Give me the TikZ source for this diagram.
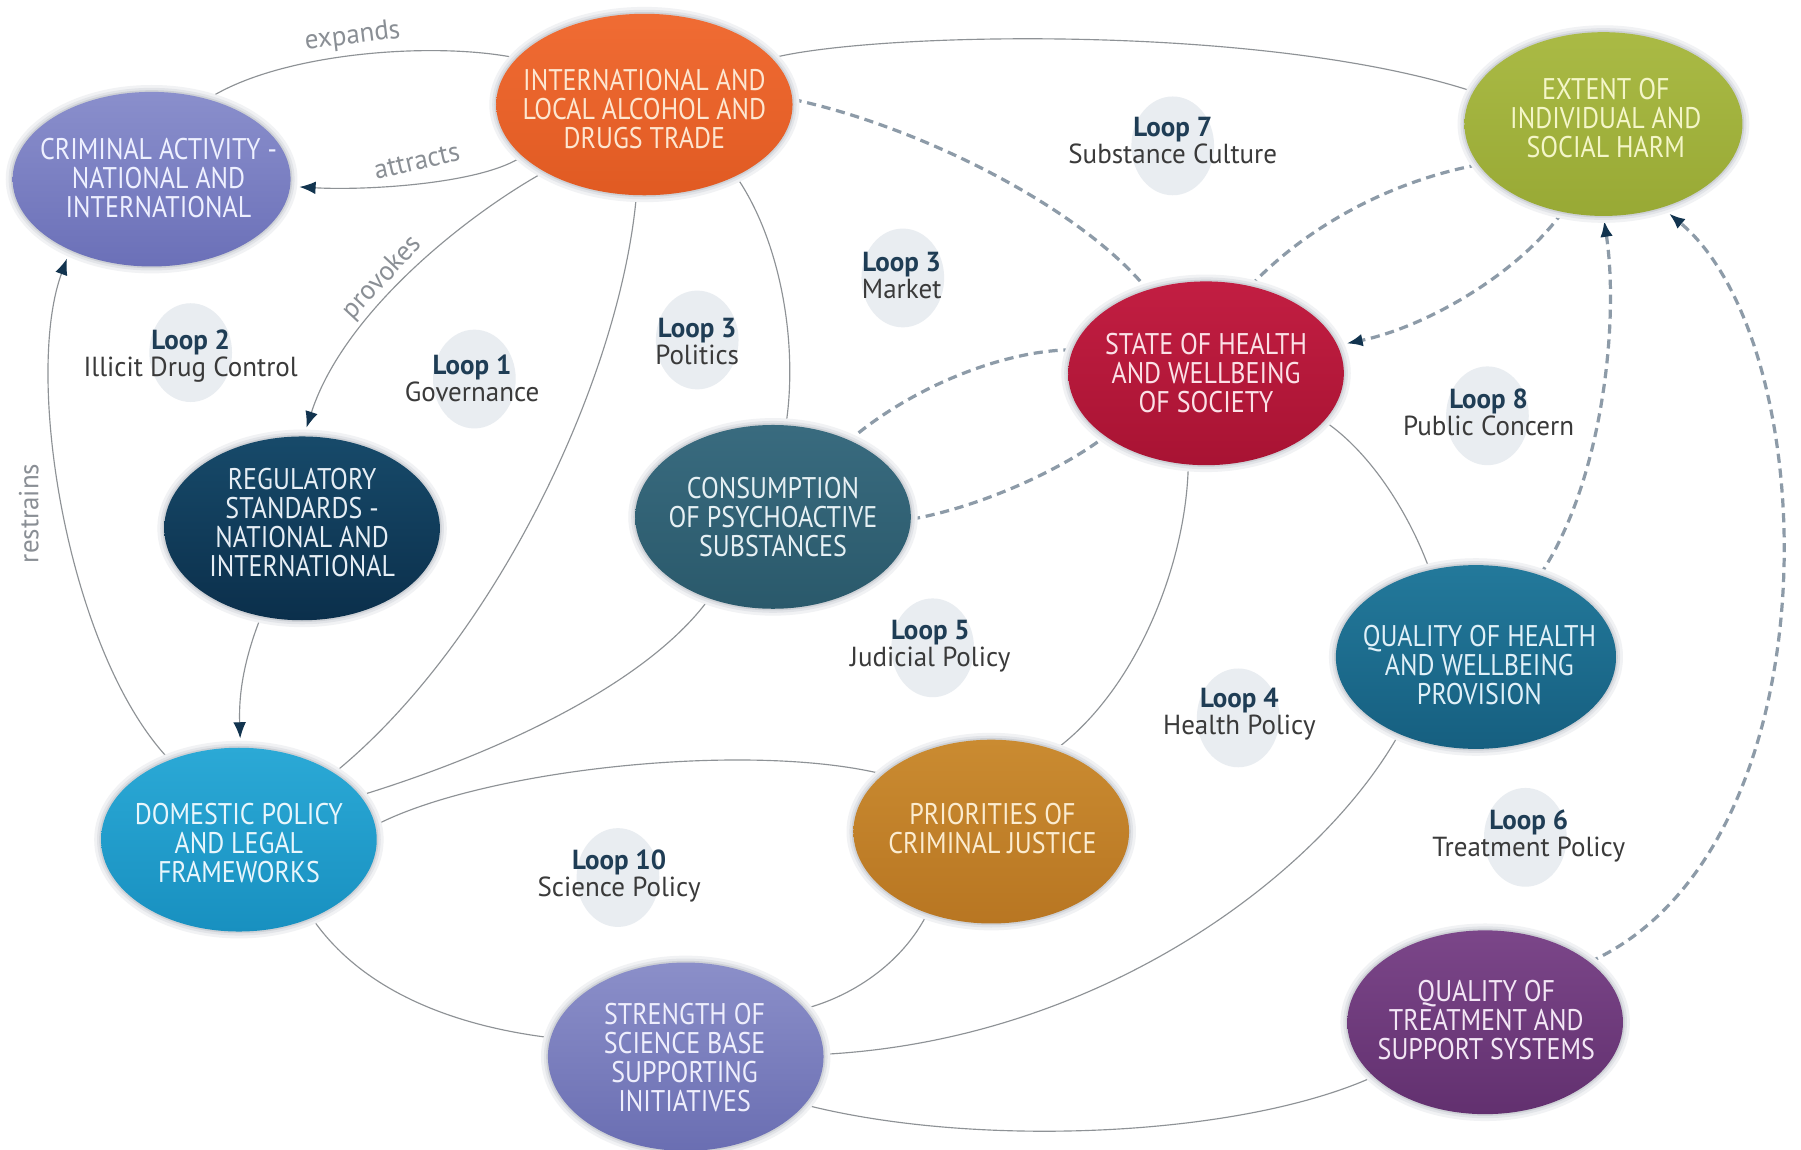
\documentclass[tikz,border=0pt]{standalone}
\usepackage{fontspec}
\setmainfont{PT Sans}[FakeStretch=0.87]
\newfontfamily\loopfont{PT Sans}[FakeStretch=0.98]
\usetikzlibrary{shapes.geometric,arrows.meta}
\definecolor{crA}{HTML}{8A8FCC}\definecolor{crB}{HTML}{6B70B8}\definecolor{crT}{HTML}{EEF0FF}
\definecolor{trA}{HTML}{F06C34}\definecolor{trB}{HTML}{E05A22}\definecolor{trT}{HTML}{FDE6D0}
\definecolor{hmA}{HTML}{AABA45}\definecolor{hmB}{HTML}{98A935}\definecolor{hmT}{HTML}{F4F6C8}
\definecolor{stA}{HTML}{C21E42}\definecolor{stB}{HTML}{A81333}\definecolor{stT}{HTML}{FBE0E6}
\definecolor{rgA}{HTML}{174A6A}\definecolor{rgB}{HTML}{0B2F4B}\definecolor{rgT}{HTML}{E6EEF5}
\definecolor{csA}{HTML}{396B7F}\definecolor{csB}{HTML}{2A596B}\definecolor{csT}{HTML}{E6F0F4}
\definecolor{qhA}{HTML}{23799B}\definecolor{qhB}{HTML}{165F80}\definecolor{qhT}{HTML}{E0F0F8}
\definecolor{dmA}{HTML}{2BA9D6}\definecolor{dmB}{HTML}{1890C0}\definecolor{dmT}{HTML}{E8F6FC}
\definecolor{prA}{HTML}{CA8B31}\definecolor{prB}{HTML}{B87622}\definecolor{prT}{HTML}{FBECD0}
\definecolor{scA}{HTML}{8B8FC9}\definecolor{scB}{HTML}{6A6EB2}\definecolor{scT}{HTML}{EEEEFC}
\definecolor{qtA}{HTML}{7B4689}\definecolor{qtB}{HTML}{62306F}\definecolor{qtT}{HTML}{F3E6F5}
\definecolor{loopgray}{HTML}{E9EDF1}
\definecolor{loopblue}{HTML}{1F3D55}
\definecolor{loopsub}{HTML}{3A3A3A}
\definecolor{linkgray}{HTML}{8E9296}
\definecolor{dashgray}{HTML}{8D9BA8}
\definecolor{arrownavy}{HTML}{12344F}
\definecolor{relgray}{HTML}{8A8F95}
\definecolor{halo1}{HTML}{F1F2F4}
\definecolor{halo2}{HTML}{E2E4E8}
\definecolor{halo3}{HTML}{CED1D6}
\pgfdeclarelayer{paper}\pgfdeclarelayer{loops}\pgfdeclarelayer{back}
\pgfsetlayers{paper,loops,back,main}
\begin{document}
\begin{tikzpicture}[x=1pt,y=-1pt,
  blob/.style={ellipse, inner sep=0pt, draw=none,
    preaction={draw=halo1, line width=12pt},
    preaction={draw=halo2, line width=7pt},
    preaction={draw=halo3, line width=3pt}},
  btext/.style={align=center, font=\fontsize{26}{25.2}\selectfont, inner sep=0pt},
  loopbg/.style={ellipse, fill=loopgray, minimum width=72pt, minimum height=86pt, inner sep=0pt},
  looptext/.style={align=center, font=\loopfont\fontsize{24}{23.5}\selectfont, text=loopsub, inner sep=0pt},
  link/.style={draw=linkgray, line width=1pt},
  dlink/.style={draw=dashgray, line width=2.8pt, dash pattern=on 8pt off 5pt},
  tip/.style={-{Latex[length=14pt,width=11pt,color=arrownavy]}, shorten >=8pt},
  rel/.style={font=\loopfont\fontsize{24}{24}\selectfont, text=relgray, inner sep=0pt}]
\begin{pgfonlayer}{paper}
\fill[white] (0,0) rectangle (1568,1001);
\end{pgfonlayer}
\useasboundingbox (0,0) rectangle (1568,1001);

% ellipses
\node[blob, minimum width=242, minimum height=152, top color=crA, bottom color=crB] (cr) at (132,156) {};
\node[blob, minimum width=258, minimum height=158, top color=trA, bottom color=trB] (tr) at (561,91) {};
\node[blob, minimum width=242, minimum height=160, top color=hmA, bottom color=hmB] (hm) at (1396,108) {};
\node[blob, minimum width=240, minimum height=160, top color=stA, bottom color=stB] (st) at (1050,325) {};
\node[blob, minimum width=240, minimum height=160, top color=rgA, bottom color=rgB] (rg) at (263,460) {};
\node[blob, minimum width=240, minimum height=160, top color=csA, bottom color=csB] (cs) at (673,450) {};
\node[blob, minimum width=244, minimum height=160, top color=qhA, bottom color=qhB] (qh) at (1285,572) {};
\node[blob, minimum width=240, minimum height=160, top color=dmA, bottom color=dmB] (dm) at (208,731) {};
\node[blob, minimum width=240, minimum height=160, top color=prA, bottom color=prB] (pr) at (863,724) {};
\node[blob, minimum width=240, minimum height=164, top color=scA, bottom color=scB] (sc) at (597,920) {};
\node[blob, minimum width=240, minimum height=160, top color=qtA, bottom color=qtB] (qt) at (1293,890) {};

% ellipse texts
\node[btext, text=crT] (crt) at (138,155) {CRIMINAL ACTIVITY -\\NATIONAL AND\\INTERNATIONAL};
\node[btext, text=trT] (trt) at (561,95) {INTERNATIONAL AND\\LOCAL ALCOHOL AND\\DRUGS TRADE};
\node[btext, text=hmT] (hmt) at (1398,103) {EXTENT OF\\INDIVIDUAL AND\\SOCIAL HARM};
\node[btext, text=stT] (stt) at (1050,325) {STATE OF HEALTH\\AND WELLBEING\\OF SOCIETY};
\node[btext, text=rgT] (rgt) at (263,455) {REGULATORY\\STANDARDS -\\NATIONAL AND\\INTERNATIONAL};
\node[btext, text=csT] (cst) at (673,450) {CONSUMPTION\\OF PSYCHOACTIVE\\SUBSTANCES};
\node[btext, text=qhT] (qht) at (1288,579) {QUALITY OF HEALTH\\AND WELLBEING\\PROVISION};
\node[btext, text=dmT] (dmt) at (208,734) {DOMESTIC POLICY\\AND LEGAL\\FRAMEWORKS};
\node[btext, text=prT] (prt) at (864,721) {PRIORITIES OF\\CRIMINAL JUSTICE};
\node[btext, text=scT] (sct) at (596,921) {STRENGTH OF\\SCIENCE BASE\\SUPPORTING\\INITIATIVES};
\node[btext, text=qtT] (qtt) at (1294,888) {QUALITY OF\\TREATMENT AND\\SUPPORT SYSTEMS};

% loop labels
\node[looptext] (l2) at (166,310) {{\bfseries\color{loopblue}Loop 2}\\Illicit Drug Control};
\node[looptext] (l1) at (411,329) {{\bfseries\color{loopblue}Loop 1}\\Governance};
\node[looptext] (l3p) at (607,297) {{\bfseries\color{loopblue}Loop 3}\\Politics};
\node[looptext] (l3m) at (785,240) {{\bfseries\color{loopblue}Loop 3}\\Market};
\node[looptext] (l7) at (1021,122) {{\bfseries\color{loopblue}Loop 7}\\Substance Culture};
\node[looptext] (l8) at (1296,359) {{\bfseries\color{loopblue}Loop 8}\\Public Concern};
\node[looptext] (l5) at (810,563) {{\bfseries\color{loopblue}Loop 5}\\Judicial Policy};
\node[looptext] (l4) at (1079,622) {{\bfseries\color{loopblue}Loop 4}\\Health Policy};
\node[looptext] (l10) at (539,763) {{\bfseries\color{loopblue}Loop 10}\\Science Policy};
\node[looptext] (l6) at (1331,728) {{\bfseries\color{loopblue}Loop 6}\\Treatment Policy};

\begin{pgfonlayer}{loops}
\node[loopbg] (l2c) at (166,307) {};
\node[loopbg] (l1c) at (413,330) {};
\node[loopbg] (l3pc) at (607,296) {};
\node[loopbg] (l3mc) at (786,242) {};
\node[loopbg] (l7c) at (1021,127) {};
\node[loopbg] (l8c) at (1295,362) {};
\node[loopbg] (l5c) at (812,564) {};
\node[loopbg] (l4c) at (1078,625) {};
\node[loopbg] (l10c) at (538,764) {};
\node[loopbg] (l6c) at (1328,729) {};
\end{pgfonlayer}

\begin{pgfonlayer}{back}
% solid links
\draw[link] (tr.160) .. controls (380,36) and (245,45) .. (cr.55);
\draw[link,tip] (tr.203) .. controls (420,160) and (320,166) .. (cr.-3);
\draw[link,tip] (tr.214) .. controls (410,185) and (300,270) .. (rg.89);
\draw[link,tip] (dm.131) .. controls (60,570) and (20,330) .. (cr.221);
\draw[link,tip] (rg.245) .. controls (210,580) and (208,610) .. (dm.89);
\draw[link] (tr.265) .. controls (540,330) and (430,560) .. (dm.35);
\draw[link] (tr.322) .. controls (680,210) and (695,300) .. (cs.82);
\draw[link] (tr.20) .. controls (760,28) and (1100,20) .. (hm.166);
\draw[link] (st.259) .. controls (1033,490) and (990,600) .. (pr.52);
\draw[link] (st.-22) .. controls (1195,395) and (1228,450) .. (qh.118);
\draw[link] (cs.232) .. controls (560,600) and (420,660) .. (dm.20);
\draw[link] (dm.6) .. controls (420,670) and (650,645) .. (pr.152);
\draw[link] (dm.-47) .. controls (320,870) and (410,895) .. (sc.172);
\draw[link] (pr.232) .. controls (785,840) and (740,868) .. (sc.22);
\draw[link] (qh.225) .. controls (1150,760) and (960,905) .. (sc.1);
\draw[link] (qt.206) .. controls (1080,990) and (850,1000) .. (sc.-22);
% dashed links
\draw[dlink] (tr.2) .. controls (800,110) and (940,180) .. (st.125);
\draw[dlink] (hm.198) .. controls (1200,160) and (1130,205) .. (st.63);
\draw[dlink,tip] (hm.245) .. controls (1320,240) and (1240,285) .. (st.12);
\draw[dlink] (st.170) .. controls (870,305) and (790,340) .. (cs.45);
\draw[dlink] (cs.-1) .. controls (860,440) and (930,405) .. (st.212);
\draw[dlink,tip,shorten >=4pt] (qh.52) .. controls (1395,420) and (1410,280) .. (hm.270);
\draw[dlink,tip] (qt.30) .. controls (1600,740) and (1590,300) .. (hm.-55);
\end{pgfonlayer}

% relation labels
\node[rel, rotate=7] (lexp) at (307,32) {expands};
\node[rel, rotate=13] (latt) at (363,141) {attracts};
\node[rel, rotate=47] (lpro) at (333,242) {provokes};
\node[rel, rotate=90] (lres) at (25,447) {restrains};
\end{tikzpicture}
\end{document}
